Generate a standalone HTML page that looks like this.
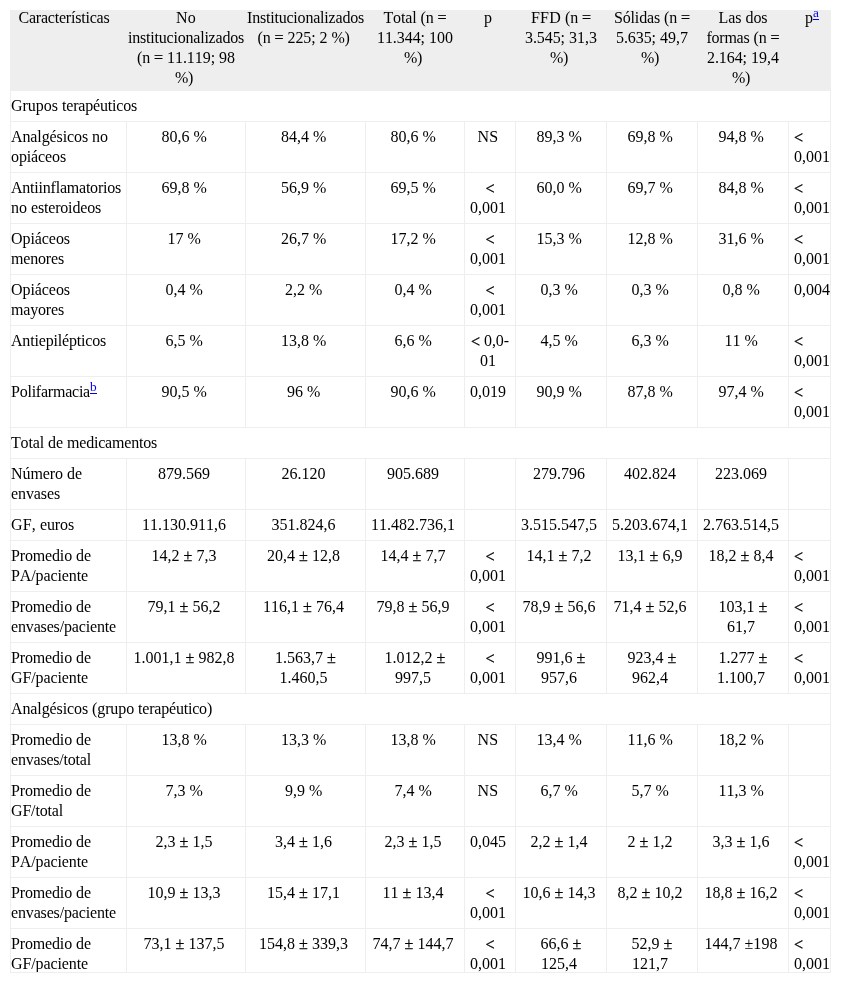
<!DOCTYPE html>
<html><head><meta charset="utf-8"><title>Tabla</title>
<style>
html,body{margin:0;padding:0;background:#fff;}
body{font-family:"Liberation Serif",serif;font-size:16px;line-height:20px;color:#000;font-kerning:none;font-variant-ligatures:none;word-spacing:0;}
#box{will-change:transform;position:absolute;left:10px;top:10px;width:821px;height:963px;overflow:hidden;}
#box:after{content:"";position:absolute;left:0;top:0;right:0;bottom:0;border:1px solid #eee;}
table{position:absolute;left:-5px;top:0;width:835px;border-collapse:separate;border-spacing:0;table-layout:fixed;}
th,td{white-space:nowrap;vertical-align:top;text-align:center;font-weight:normal;border-right:1px solid #eee;border-bottom:1px solid #eee;}
th{background:#eee;padding:0 1px;height:80px;box-sizing:content-box;}
th div{margin-top:-2px;}
td{padding:5px;}
td:first-child,th:first-child{border-left:1px solid #eee;}
td.l{text-align:left;}
a{color:#00e;text-decoration:underline;text-underline-offset:2px;}
span.b{-webkit-text-stroke:.25px #000;}
span.lt{position:relative;top:1px;letter-spacing:-.02px;-webkit-text-stroke:.3px #000;}
sup{font-size:13.333px;line-height:0;vertical-align:super;letter-spacing:0;}
</style></head><body>
<div id="box"><table>
<colgroup><col style="width:122px"><col style="width:119px"><col style="width:120px"><col style="width:99px"><col style="width:51px"><col style="width:91px"><col style="width:91px"><col style="width:91px"><col style="width:51px"></colgroup>
<thead><tr>
<th><div><span style="letter-spacing:-0.211px">Características</span>&nbsp;</div></th>
<th><div><span style="letter-spacing:0.223px">No</span><br><span style="letter-spacing:-0.209px">institucionalizados</span><br><span style="letter-spacing:-0.164px">(n</span> <span class="b" style="letter-spacing:-0.023px">=</span> <span style="letter-spacing:-0.064px">11.119;</span> <span style="letter-spacing:0.000px">98</span><br><span style="letter-spacing:-0.328px">%)</span>&nbsp;</div></th>
<th><div><span style="letter-spacing:-0.203px">Institucionalizados</span><br><span style="letter-spacing:-0.164px">(n</span> <span class="b" style="letter-spacing:-0.023px">=</span> <span style="letter-spacing:-0.111px">225;</span> <span style="letter-spacing:0.000px">2</span> <span style="letter-spacing:-0.328px">%)</span>&nbsp;</div></th>
<th><div><span style="letter-spacing:-0.153px">Total</span> <span style="letter-spacing:-0.164px">(n</span> <span class="b" style="letter-spacing:-0.023px">=</span><br><span style="letter-spacing:-0.064px">11.344;</span> <span style="letter-spacing:0.000px">100</span><br><span style="letter-spacing:-0.328px">%)</span>&nbsp;</div></th>
<th><div><span style="letter-spacing:0.000px">p</span>&nbsp;</div></th>
<th><div><span style="letter-spacing:0.216px">FFD</span> <span style="letter-spacing:-0.164px">(n</span> <span class="b" style="letter-spacing:-0.023px">=</span><br><span style="letter-spacing:-0.074px">3.545;</span> <span style="letter-spacing:0.000px">31,3</span><br><span style="letter-spacing:-0.328px">%)</span>&nbsp;</div></th>
<th><div><span style="letter-spacing:-0.160px">Sólidas</span> <span style="letter-spacing:-0.164px">(n</span> <span class="b" style="letter-spacing:-0.023px">=</span><br><span style="letter-spacing:-0.074px">5.635;</span> <span style="letter-spacing:0.000px">49,7</span><br><span style="letter-spacing:-0.328px">%)</span>&nbsp;</div></th>
<th><div><span style="letter-spacing:-0.034px">Las</span> <span style="letter-spacing:-0.076px">dos</span><br><span style="letter-spacing:-0.238px">formas</span> <span style="letter-spacing:-0.164px">(n</span> <span class="b" style="letter-spacing:-0.023px">=</span><br><span style="letter-spacing:-0.074px">2.164;</span> <span style="letter-spacing:0.000px">19,4</span><br><span style="letter-spacing:-0.328px">%)</span>&nbsp;</div></th>
<th><div><span style="letter-spacing:0.000px">p</span><sup><a style="letter-spacing:0.082px">a</a></sup>&nbsp;</div></th>
</tr></thead>
<tbody>
<tr><td class="l" colspan="9"><span style="letter-spacing:-0.018px">Grupos</span> <span style="letter-spacing:-0.191px">terapéuticos</span></td></tr>
<tr><td class="l"><span style="letter-spacing:-0.109px">Analgésicos</span> <span style="letter-spacing:0.000px">no</span><br><span style="letter-spacing:-0.122px">opiáceos</span></td><td><span style="letter-spacing:0.000px">80,6</span> <span style="letter-spacing:-0.328px">%</span>&nbsp;</td><td><span style="letter-spacing:0.000px">84,4</span> <span style="letter-spacing:-0.328px">%</span>&nbsp;</td><td><span style="letter-spacing:0.000px">80,6</span> <span style="letter-spacing:-0.328px">%</span>&nbsp;</td><td><span style="letter-spacing:0.273px">NS</span>&nbsp;</td><td><span style="letter-spacing:0.000px">89,3</span> <span style="letter-spacing:-0.328px">%</span>&nbsp;</td><td><span style="letter-spacing:0.000px">69,8</span> <span style="letter-spacing:-0.328px">%</span>&nbsp;</td><td><span style="letter-spacing:0.000px">94,8</span> <span style="letter-spacing:-0.328px">%</span>&nbsp;</td><td class="l"><span class="lt">&lt;</span><br><span style="letter-spacing:0.000px">0,001</span></td></tr>
<tr><td class="l"><span style="letter-spacing:-0.221px">Antiinflamatorios</span><br><span style="letter-spacing:0.000px">no</span> <span style="letter-spacing:-0.180px">esteroideos</span></td><td><span style="letter-spacing:0.000px">69,8</span> <span style="letter-spacing:-0.328px">%</span>&nbsp;</td><td><span style="letter-spacing:0.000px">56,9</span> <span style="letter-spacing:-0.328px">%</span>&nbsp;</td><td><span style="letter-spacing:0.000px">69,5</span> <span style="letter-spacing:-0.328px">%</span>&nbsp;</td><td><span class="lt">&lt;</span><br><span style="letter-spacing:0.000px">0,001</span>&nbsp;</td><td><span style="letter-spacing:0.000px">60,0</span> <span style="letter-spacing:-0.328px">%</span>&nbsp;</td><td><span style="letter-spacing:0.000px">69,7</span> <span style="letter-spacing:-0.328px">%</span>&nbsp;</td><td><span style="letter-spacing:0.000px">84,8</span> <span style="letter-spacing:-0.328px">%</span>&nbsp;</td><td class="l"><span class="lt">&lt;</span><br><span style="letter-spacing:0.000px">0,001</span></td></tr>
<tr><td class="l"><span style="letter-spacing:-0.066px">Opiáceos</span><br><span style="letter-spacing:-0.172px">menores</span></td><td><span style="letter-spacing:0.000px">17</span> <span style="letter-spacing:-0.328px">%</span>&nbsp;</td><td><span style="letter-spacing:0.000px">26,7</span> <span style="letter-spacing:-0.328px">%</span>&nbsp;</td><td><span style="letter-spacing:0.000px">17,2</span> <span style="letter-spacing:-0.328px">%</span>&nbsp;</td><td><span class="lt">&lt;</span><br><span style="letter-spacing:0.000px">0,001</span>&nbsp;</td><td><span style="letter-spacing:0.000px">15,3</span> <span style="letter-spacing:-0.328px">%</span>&nbsp;</td><td><span style="letter-spacing:0.000px">12,8</span> <span style="letter-spacing:-0.328px">%</span>&nbsp;</td><td><span style="letter-spacing:0.000px">31,6</span> <span style="letter-spacing:-0.328px">%</span>&nbsp;</td><td class="l"><span class="lt">&lt;</span><br><span style="letter-spacing:0.000px">0,001</span></td></tr>
<tr><td class="l"><span style="letter-spacing:-0.066px">Opiáceos</span><br><span style="letter-spacing:-0.172px">mayores</span></td><td><span style="letter-spacing:0.000px">0,4</span> <span style="letter-spacing:-0.328px">%</span>&nbsp;</td><td><span style="letter-spacing:0.000px">2,2</span> <span style="letter-spacing:-0.328px">%</span>&nbsp;</td><td><span style="letter-spacing:0.000px">0,4</span> <span style="letter-spacing:-0.328px">%</span>&nbsp;</td><td><span class="lt">&lt;</span><br><span style="letter-spacing:0.000px">0,001</span>&nbsp;</td><td><span style="letter-spacing:0.000px">0,3</span> <span style="letter-spacing:-0.328px">%</span>&nbsp;</td><td><span style="letter-spacing:0.000px">0,3</span> <span style="letter-spacing:-0.328px">%</span>&nbsp;</td><td><span style="letter-spacing:0.000px">0,8</span> <span style="letter-spacing:-0.328px">%</span>&nbsp;</td><td class="l"><span style="letter-spacing:0.000px">0,004</span></td></tr>
<tr><td class="l"><span style="letter-spacing:-0.184px">Antiepilépticos</span></td><td><span style="letter-spacing:0.000px">6,5</span> <span style="letter-spacing:-0.328px">%</span>&nbsp;</td><td><span style="letter-spacing:0.000px">13,8</span> <span style="letter-spacing:-0.328px">%</span>&nbsp;</td><td><span style="letter-spacing:0.000px">6,6</span> <span style="letter-spacing:-0.328px">%</span>&nbsp;</td><td><span class="lt">&lt;</span> <span style="letter-spacing:-0.082px">0,0-</span><br><span style="letter-spacing:0.000px">01</span>&nbsp;</td><td><span style="letter-spacing:0.000px">4,5</span> <span style="letter-spacing:-0.328px">%</span>&nbsp;</td><td><span style="letter-spacing:0.000px">6,3</span> <span style="letter-spacing:-0.328px">%</span>&nbsp;</td><td><span style="letter-spacing:0.000px">11</span> <span style="letter-spacing:-0.328px">%</span>&nbsp;</td><td class="l"><span class="lt">&lt;</span><br><span style="letter-spacing:0.000px">0,001</span></td></tr>
<tr><td class="l"><span style="letter-spacing:-0.229px">Polifarmacia</span><sup><a style="letter-spacing:0.333px">b</a></sup></td><td><span style="letter-spacing:0.000px">90,5</span> <span style="letter-spacing:-0.328px">%</span>&nbsp;</td><td><span style="letter-spacing:0.000px">96</span> <span style="letter-spacing:-0.328px">%</span>&nbsp;</td><td><span style="letter-spacing:0.000px">90,6</span> <span style="letter-spacing:-0.328px">%</span>&nbsp;</td><td><span style="letter-spacing:0.000px">0,019</span>&nbsp;</td><td><span style="letter-spacing:0.000px">90,9</span> <span style="letter-spacing:-0.328px">%</span>&nbsp;</td><td><span style="letter-spacing:0.000px">87,8</span> <span style="letter-spacing:-0.328px">%</span>&nbsp;</td><td><span style="letter-spacing:0.000px">97,4</span> <span style="letter-spacing:-0.328px">%</span>&nbsp;</td><td class="l"><span class="lt">&lt;</span><br><span style="letter-spacing:0.000px">0,001</span></td></tr>
<tr><td class="l" colspan="9"><span style="letter-spacing:-0.153px">Total</span> <span style="letter-spacing:-0.051px">de</span> <span style="letter-spacing:-0.201px">medicamentos</span></td></tr>
<tr><td class="l"><span style="letter-spacing:-0.072px">Número</span> <span style="letter-spacing:-0.051px">de</span><br><span style="letter-spacing:-0.108px">envases</span></td><td><span style="letter-spacing:0.000px">879.569</span>&nbsp;</td><td><span style="letter-spacing:0.000px">26.120</span>&nbsp;</td><td><span style="letter-spacing:0.000px">905.689</span>&nbsp;</td><td></td><td><span style="letter-spacing:0.000px">279.796</span>&nbsp;</td><td><span style="letter-spacing:0.000px">402.824</span>&nbsp;</td><td><span style="letter-spacing:0.000px">223.069</span>&nbsp;</td><td class="l"></td></tr>
<tr><td class="l"><span style="letter-spacing:0.182px">GF,</span> <span style="letter-spacing:-0.131px">euros</span></td><td><span style="letter-spacing:0.000px">11.130.911,6</span>&nbsp;</td><td><span style="letter-spacing:0.000px">351.824,6</span>&nbsp;</td><td><span style="letter-spacing:0.000px">11.482.736,1</span>&nbsp;</td><td></td><td><span style="letter-spacing:0.000px">3.515.547,5</span>&nbsp;</td><td><span style="letter-spacing:0.000px">5.203.674,1</span>&nbsp;</td><td><span style="letter-spacing:0.000px">2.763.514,5</span>&nbsp;</td><td class="l"></td></tr>
<tr><td class="l"><span style="letter-spacing:-0.152px">Promedio</span> <span style="letter-spacing:-0.051px">de</span><br><span style="letter-spacing:-0.109px">PA/paciente</span></td><td><span style="letter-spacing:0.000px">14,2</span> <span class="b" style="letter-spacing:0.219px">±</span> <span style="letter-spacing:0.000px">7,3</span>&nbsp;</td><td><span style="letter-spacing:0.000px">20,4</span> <span class="b" style="letter-spacing:0.219px">±</span> <span style="letter-spacing:0.000px">12,8</span>&nbsp;</td><td><span style="letter-spacing:0.000px">14,4</span> <span class="b" style="letter-spacing:0.219px">±</span> <span style="letter-spacing:0.000px">7,7</span>&nbsp;</td><td><span class="lt">&lt;</span><br><span style="letter-spacing:0.000px">0,001</span>&nbsp;</td><td><span style="letter-spacing:0.000px">14,1</span> <span class="b" style="letter-spacing:0.219px">±</span> <span style="letter-spacing:0.000px">7,2</span>&nbsp;</td><td><span style="letter-spacing:0.000px">13,1</span> <span class="b" style="letter-spacing:0.219px">±</span> <span style="letter-spacing:0.000px">6,9</span>&nbsp;</td><td><span style="letter-spacing:0.000px">18,2</span> <span class="b" style="letter-spacing:0.219px">±</span> <span style="letter-spacing:0.000px">8,4</span>&nbsp;</td><td class="l"><span class="lt">&lt;</span><br><span style="letter-spacing:0.000px">0,001</span></td></tr>
<tr><td class="l"><span style="letter-spacing:-0.152px">Promedio</span> <span style="letter-spacing:-0.051px">de</span><br><span style="letter-spacing:-0.156px">envases/paciente</span></td><td><span style="letter-spacing:0.000px">79,1</span> <span class="b" style="letter-spacing:0.219px">±</span> <span style="letter-spacing:0.000px">56,2</span>&nbsp;</td><td><span style="letter-spacing:0.000px">116,1</span> <span class="b" style="letter-spacing:0.219px">±</span> <span style="letter-spacing:0.000px">76,4</span>&nbsp;</td><td><span style="letter-spacing:0.000px">79,8</span> <span class="b" style="letter-spacing:0.219px">±</span> <span style="letter-spacing:0.000px">56,9</span>&nbsp;</td><td><span class="lt">&lt;</span><br><span style="letter-spacing:0.000px">0,001</span>&nbsp;</td><td><span style="letter-spacing:0.000px">78,9</span> <span class="b" style="letter-spacing:0.219px">±</span> <span style="letter-spacing:0.000px">56,6</span>&nbsp;</td><td><span style="letter-spacing:0.000px">71,4</span> <span class="b" style="letter-spacing:0.219px">±</span> <span style="letter-spacing:0.000px">52,6</span>&nbsp;</td><td><span style="letter-spacing:0.000px">103,1</span> <span class="b" style="letter-spacing:0.219px">±</span><br><span style="letter-spacing:0.000px">61,7</span>&nbsp;</td><td class="l"><span class="lt">&lt;</span><br><span style="letter-spacing:0.000px">0,001</span></td></tr>
<tr><td class="l"><span style="letter-spacing:-0.152px">Promedio</span> <span style="letter-spacing:-0.051px">de</span><br><span style="letter-spacing:-0.109px">GF/paciente</span></td><td><span style="letter-spacing:0.000px">1.001,1</span> <span class="b" style="letter-spacing:0.219px">±</span> <span style="letter-spacing:0.000px">982,8</span>&nbsp;</td><td><span style="letter-spacing:0.000px">1.563,7</span> <span class="b" style="letter-spacing:0.219px">±</span><br><span style="letter-spacing:0.000px">1.460,5</span>&nbsp;</td><td><span style="letter-spacing:0.000px">1.012,2</span> <span class="b" style="letter-spacing:0.219px">±</span><br><span style="letter-spacing:0.000px">997,5</span>&nbsp;</td><td><span class="lt">&lt;</span><br><span style="letter-spacing:0.000px">0,001</span>&nbsp;</td><td><span style="letter-spacing:0.000px">991,6</span> <span class="b" style="letter-spacing:0.219px">±</span><br><span style="letter-spacing:0.000px">957,6</span>&nbsp;</td><td><span style="letter-spacing:0.000px">923,4</span> <span class="b" style="letter-spacing:0.219px">±</span><br><span style="letter-spacing:0.000px">962,4</span>&nbsp;</td><td><span style="letter-spacing:0.000px">1.277</span> <span class="b" style="letter-spacing:0.219px">±</span><br><span style="letter-spacing:0.000px">1.100,7</span>&nbsp;</td><td class="l"><span class="lt">&lt;</span><br><span style="letter-spacing:0.000px">0,001</span></td></tr>
<tr><td class="l" colspan="9"><span style="letter-spacing:-0.109px">Analgésicos</span> <span style="letter-spacing:-0.109px">(grupo</span> <span style="letter-spacing:-0.200px">terapéutico)</span></td></tr>
<tr><td class="l"><span style="letter-spacing:-0.152px">Promedio</span> <span style="letter-spacing:-0.051px">de</span><br><span style="letter-spacing:-0.203px">envases/total</span></td><td><span style="letter-spacing:0.000px">13,8</span> <span style="letter-spacing:-0.328px">%</span>&nbsp;</td><td><span style="letter-spacing:0.000px">13,3</span> <span style="letter-spacing:-0.328px">%</span>&nbsp;</td><td><span style="letter-spacing:0.000px">13,8</span> <span style="letter-spacing:-0.328px">%</span>&nbsp;</td><td><span style="letter-spacing:0.273px">NS</span>&nbsp;</td><td><span style="letter-spacing:0.000px">13,4</span> <span style="letter-spacing:-0.328px">%</span>&nbsp;</td><td><span style="letter-spacing:0.000px">11,6</span> <span style="letter-spacing:-0.328px">%</span>&nbsp;</td><td><span style="letter-spacing:0.000px">18,2</span> <span style="letter-spacing:-0.328px">%</span>&nbsp;</td><td class="l"></td></tr>
<tr><td class="l"><span style="letter-spacing:-0.152px">Promedio</span> <span style="letter-spacing:-0.051px">de</span><br><span style="letter-spacing:-0.167px">GF/total</span></td><td><span style="letter-spacing:0.000px">7,3</span> <span style="letter-spacing:-0.328px">%</span>&nbsp;</td><td><span style="letter-spacing:0.000px">9,9</span> <span style="letter-spacing:-0.328px">%</span>&nbsp;</td><td><span style="letter-spacing:0.000px">7,4</span> <span style="letter-spacing:-0.328px">%</span>&nbsp;</td><td><span style="letter-spacing:0.273px">NS</span>&nbsp;</td><td><span style="letter-spacing:0.000px">6,7</span> <span style="letter-spacing:-0.328px">%</span>&nbsp;</td><td><span style="letter-spacing:0.000px">5,7</span> <span style="letter-spacing:-0.328px">%</span>&nbsp;</td><td><span style="letter-spacing:0.000px">11,3</span> <span style="letter-spacing:-0.328px">%</span>&nbsp;</td><td class="l"></td></tr>
<tr><td class="l"><span style="letter-spacing:-0.152px">Promedio</span> <span style="letter-spacing:-0.051px">de</span><br><span style="letter-spacing:-0.109px">PA/paciente</span></td><td><span style="letter-spacing:0.000px">2,3</span> <span class="b" style="letter-spacing:0.219px">±</span> <span style="letter-spacing:0.000px">1,5</span>&nbsp;</td><td><span style="letter-spacing:0.000px">3,4</span> <span class="b" style="letter-spacing:0.219px">±</span> <span style="letter-spacing:0.000px">1,6</span>&nbsp;</td><td><span style="letter-spacing:0.000px">2,3</span> <span class="b" style="letter-spacing:0.219px">±</span> <span style="letter-spacing:0.000px">1,5</span>&nbsp;</td><td><span style="letter-spacing:0.000px">0,045</span>&nbsp;</td><td><span style="letter-spacing:0.000px">2,2</span> <span class="b" style="letter-spacing:0.219px">±</span> <span style="letter-spacing:0.000px">1,4</span>&nbsp;</td><td><span style="letter-spacing:0.000px">2</span> <span class="b" style="letter-spacing:0.219px">±</span> <span style="letter-spacing:0.000px">1,2</span>&nbsp;</td><td><span style="letter-spacing:0.000px">3,3</span> <span class="b" style="letter-spacing:0.219px">±</span> <span style="letter-spacing:0.000px">1,6</span>&nbsp;</td><td class="l"><span class="lt">&lt;</span><br><span style="letter-spacing:0.000px">0,001</span></td></tr>
<tr><td class="l"><span style="letter-spacing:-0.152px">Promedio</span> <span style="letter-spacing:-0.051px">de</span><br><span style="letter-spacing:-0.156px">envases/paciente</span></td><td><span style="letter-spacing:0.000px">10,9</span> <span class="b" style="letter-spacing:0.219px">±</span> <span style="letter-spacing:0.000px">13,3</span>&nbsp;</td><td><span style="letter-spacing:0.000px">15,4</span> <span class="b" style="letter-spacing:0.219px">±</span> <span style="letter-spacing:0.000px">17,1</span>&nbsp;</td><td><span style="letter-spacing:0.000px">11</span> <span class="b" style="letter-spacing:0.219px">±</span> <span style="letter-spacing:0.000px">13,4</span>&nbsp;</td><td><span class="lt">&lt;</span><br><span style="letter-spacing:0.000px">0,001</span>&nbsp;</td><td><span style="letter-spacing:0.000px">10,6</span> <span class="b" style="letter-spacing:0.219px">±</span> <span style="letter-spacing:0.000px">14,3</span>&nbsp;</td><td><span style="letter-spacing:0.000px">8,2</span> <span class="b" style="letter-spacing:0.219px">±</span> <span style="letter-spacing:0.000px">10,2</span>&nbsp;</td><td><span style="letter-spacing:0.000px">18,8</span> <span class="b" style="letter-spacing:0.219px">±</span> <span style="letter-spacing:0.000px">16,2</span>&nbsp;</td><td class="l"><span class="lt">&lt;</span><br><span style="letter-spacing:0.000px">0,001</span></td></tr>
<tr><td class="l"><span style="letter-spacing:-0.152px">Promedio</span> <span style="letter-spacing:-0.051px">de</span><br><span style="letter-spacing:-0.109px">GF/paciente</span></td><td><span style="letter-spacing:0.000px">73,1</span> <span class="b" style="letter-spacing:0.219px">±</span> <span style="letter-spacing:0.000px">137,5</span>&nbsp;</td><td><span style="letter-spacing:0.000px">154,8</span> <span class="b" style="letter-spacing:0.219px">±</span> <span style="letter-spacing:0.000px">339,3</span>&nbsp;</td><td><span style="letter-spacing:0.000px">74,7</span> <span class="b" style="letter-spacing:0.219px">±</span> <span style="letter-spacing:0.000px">144,7</span>&nbsp;</td><td><span class="lt">&lt;</span><br><span style="letter-spacing:0.000px">0,001</span>&nbsp;</td><td><span style="letter-spacing:0.000px">66,6</span> <span class="b" style="letter-spacing:0.219px">±</span><br><span style="letter-spacing:0.000px">125,4</span>&nbsp;</td><td><span style="letter-spacing:0.000px">52,9</span> <span class="b" style="letter-spacing:0.219px">±</span><br><span style="letter-spacing:0.000px">121,7</span>&nbsp;</td><td><span style="letter-spacing:0.000px">144,7</span> <span style="letter-spacing:0.055px">±198</span>&nbsp;</td><td class="l"><span class="lt">&lt;</span><br><span style="letter-spacing:0.000px">0,001</span></td></tr>
</tbody></table></div>
</body></html>
